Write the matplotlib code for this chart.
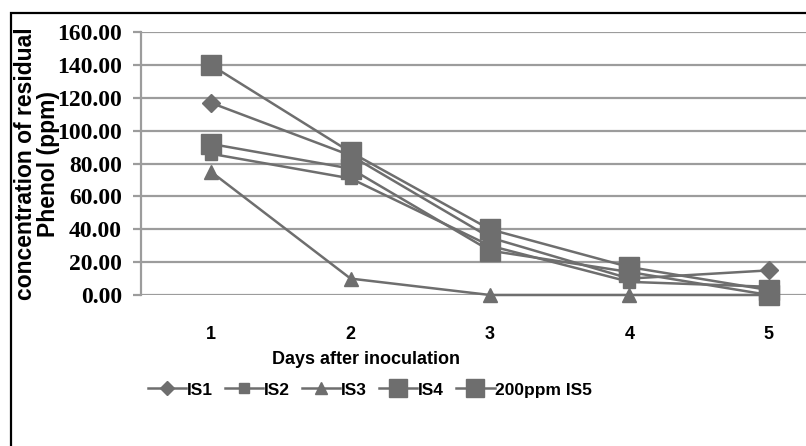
import matplotlib
matplotlib.use("Agg")
import matplotlib.pyplot as plt
from matplotlib.patches import Rectangle
from matplotlib.lines import Line2D

days = [1, 2, 3, 4, 5]
day_labels = ["1", "2", "3", "4", "5"]
is1 = [117, 85, 35, 10, 15]
is2 = [86, 71, 30, 8, 5]
is3 = [75, 10, 0, 0, 0]
is4 = [140, 87, 40, 17, 3]
is5 = [92, 77, 27, 14, 0]
series_names = ["IS1", "IS2", "IS3", "IS4", "200ppm IS5"]
yticks = [0, 20, 40, 60, 80, 100, 120, 140, 160]

W, H = 806, 446
fig = plt.figure(figsize=(W / 100, H / 100), dpi=100)
fig.patch.set_facecolor("white")

# figure border (cropped: only top and left visible)
fig.patches.append(Rectangle((11 / W, -0.1), 1.2, (H - 13) / H + 0.1,
                             transform=fig.transFigure, fill=False,
                             edgecolor="black", linewidth=1.6, zorder=0))

left, right_px, top_px, bot_px = 141.4, 838.6, 32.3, 295.0
ax = fig.add_axes([left / W, 1 - bot_px / H, (right_px - left) / W, (bot_px - top_px) / H])
ax.set_facecolor("none")

gray = "#6e6e6e"
grid = "#9c9c9c"

styles = [
    dict(marker="D", markersize=9),
    dict(marker="s", markersize=9),
    dict(marker="^", markersize=10),
    dict(marker="s", markersize=15),
    dict(marker="s", markersize=15),
]
data = [is1, is2, is3, is4, is5]
handles = []
for vals, name, st in zip(data, series_names, styles):
    ax.plot(days, vals, color=gray, linewidth=1.8, markerfacecolor=gray,
            markeredgecolor=gray, clip_on=False, zorder=3, **st)
    handles.append(Line2D([], [], color=gray, linewidth=1.8, markerfacecolor=gray,
                          markeredgecolor=gray, marker=st["marker"],
                          markersize=st["markersize"] * (0.85 if st["markersize"] > 12 else 0.8)))

ax.set_xlim(0.5, 5.5)
ax.set_ylim(0, 160)
ax.set_yticks(yticks)
ax.set_yticklabels([f"{v:.2f}" for v in yticks], fontfamily="Liberation Serif",
                   fontweight="bold", fontsize=17)
ax.set_xticks(days)
ax.set_xticklabels(day_labels, fontfamily="Liberation Sans",
                   fontweight="bold", fontsize=13)
ax.grid(axis="y", color=grid, linewidth=1.6, zorder=1)
ax.set_axisbelow(True)
for s in ["top", "right", "bottom"]:
    ax.spines[s].set_visible(False)
ax.spines["left"].set_color(grid)
ax.spines["left"].set_linewidth(1.6)
ax.tick_params(axis="y", length=6, width=1.6, color=grid, pad=8)
ax.tick_params(axis="x", length=0, pad=22)

ax.set_xlabel("Days after inoculation", fontfamily="Liberation Sans",
              fontweight="bold", fontsize=13)
# center x label at pixel 366
ax.xaxis.set_label_coords((366 - left) / (right_px - left), -(359 - bot_px) / (bot_px - top_px),
                          transform=ax.transAxes)
ax.xaxis.label.set_va("center")

ax.set_ylabel("concentration of residual\nPhenol (ppm)", fontfamily="Liberation Sans",
              fontweight="bold", fontsize=16.5, linespacing=1.0)
ax.yaxis.set_label_coords(-(left - 37) / (right_px - left), 0.5, transform=ax.transAxes)
ax.yaxis.label.set_va("center")

fig.legend(handles, series_names, loc="center", bbox_to_anchor=(370 / W, 1 - 390 / H),
           ncol=5, frameon=False, handlelength=2.2, handletextpad=0.05, columnspacing=0.7,
           prop=dict(family="Liberation Sans", weight="bold", size=12.5))

fig.savefig("out.png", dpi=100)
